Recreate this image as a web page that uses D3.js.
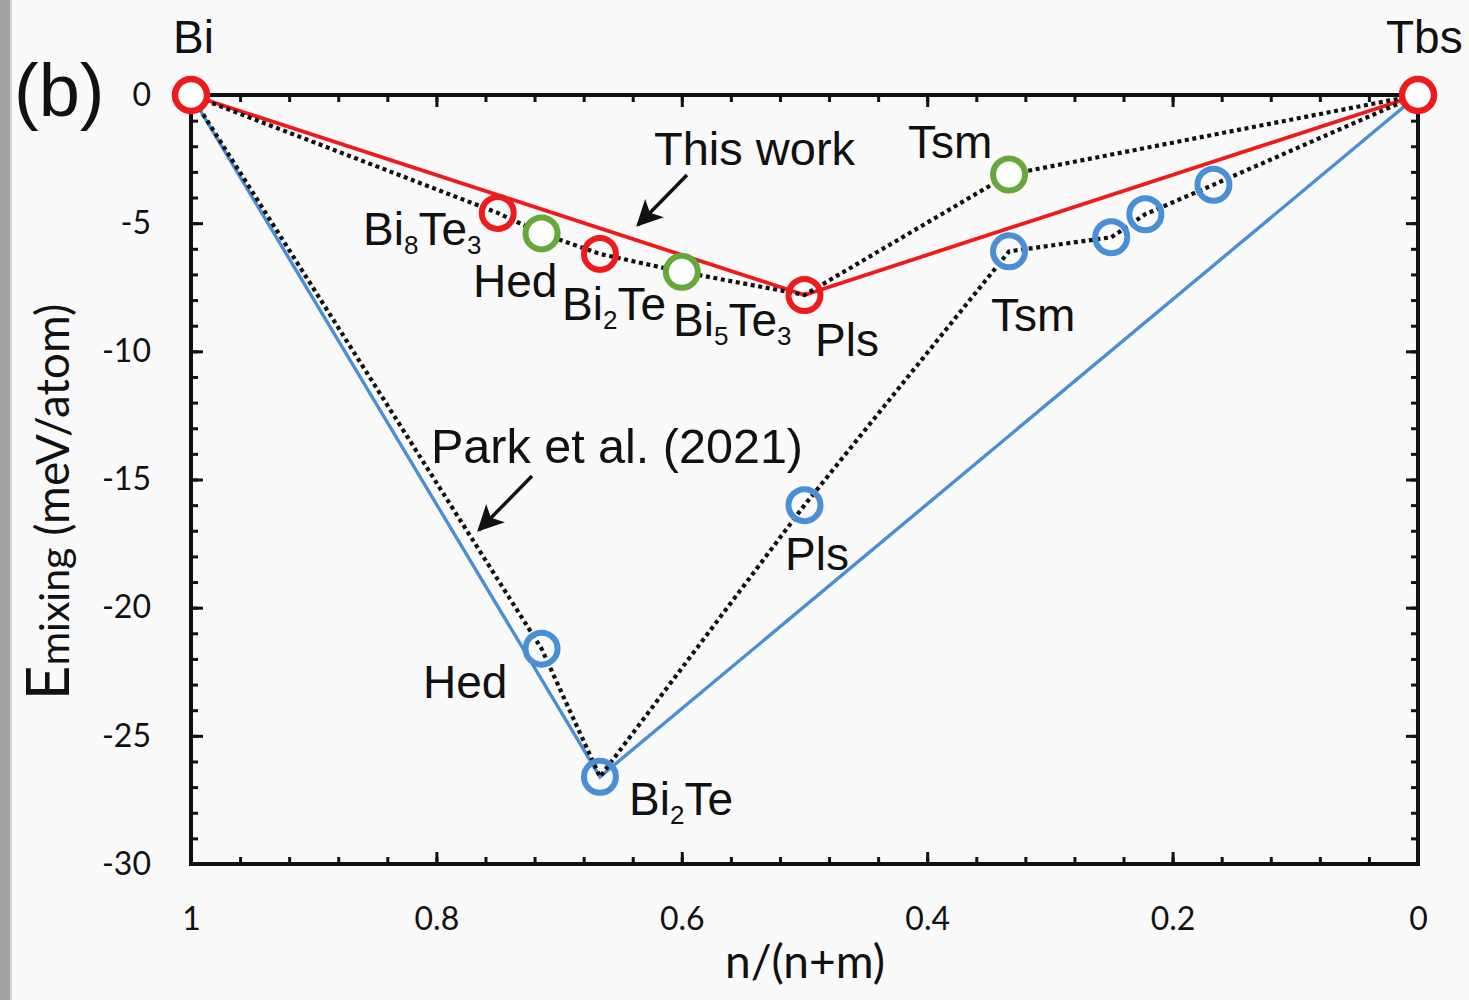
<!DOCTYPE html>
<html>
<head>
<meta charset="utf-8">
<script src="https://cdn.jsdelivr.net/npm/d3@7/dist/d3.min.js"></script>
<style>
  html, body { margin: 0; padding: 0; background: #fafafa; }
  svg { display: block; }
</style>
</head>
<body>
<svg id="chart" width="1469" height="1000"></svg>
<script>
// ---------------- DATA ----------------
// This work (red = stable/hull points, green = metastable points)
const redX   = [1, 0.75, 0.6667, 0.5, 0];
const redY   = [0, -4.6, -6.2, -7.8, 0];
const greenX = [0.7143, 0.6, 0.3333];
const greenY = [-5.4, -6.9, -3.1];
const thisWorkHullX = [1, 0.5, 0];
const thisWorkHullY = [0, -7.8, 0];
const thisWorkDotX = [1, 0.75, 0.7143, 0.6667, 0.6, 0.5, 0.3333, 0];
const thisWorkDotY = [0, -4.6, -5.4, -6.2, -6.9, -7.8, -3.1, 0];
// Park et al. (2021)
const parkX = [0.7143, 0.6667, 0.5, 0.3333, 0.25, 0.2222, 0.1667];
const parkY = [-21.6, -26.6, -16.0, -6.1, -5.55, -4.65, -3.5];
const parkHullX = [1, 0.6667, 0];
const parkHullY = [0, -26.6, 0];
const parkDotX = [1, 0.7143, 0.6667, 0.5, 0.3333, 0.25, 0.2222, 0.1667, 0];
const parkDotY = [0, -21.6, -26.6, -16.0, -6.1, -5.55, -4.65, -3.5, 0];
// Axes
const xMajorTicks = [1, 0.8, 0.6, 0.4, 0.2, 0];
const xTickLabels = ["1", "0.8", "0.6", "0.4", "0.2", "0"];
const xMinorTicks = d3.range(0, 26).map(i => +(i * 0.04).toFixed(2)).filter(v => v <= 1);
const yMajorTicks = [0, -5, -10, -15, -20, -25, -30];
const yTickLabels = ["0", "-5", "-10", "-15", "-20", "-25", "-30"];
const yMinorTicks = d3.range(0, 31).map(i => -i);

// ---------------- LAYOUT ----------------
const svg = d3.select("#chart");
const L = 191, R = 1418, T = 95, B = 864;
const x = d3.scaleLinear().domain([1, 0]).range([L, R]);
const y = d3.scaleLinear().domain([0, -30]).range([T, B]);

const RED = "#ef1b1b", BLUE = "#4a8fd6", GREEN = "#67a83a", INK = "#111";
const SANS = "'Liberation Sans', Arial, sans-serif";
const CAL = "Lato, 'Open Sans', sans-serif";

// background + left grey strip
svg.append("rect").attr("width", 1469).attr("height", 1000).attr("fill", "#fafafa");
svg.append("rect").attr("x", 0).attr("y", 0).attr("width", 10).attr("height", 1000).attr("fill", "#a2a2a2");
svg.append("rect").attr("x", 10).attr("y", 0).attr("width", 2).attr("height", 1000).attr("fill", "#d4d4d4");

// ---------------- AXES ----------------
function styleAxis(g) {
  g.select(".domain").remove();
  g.selectAll(".tick line").attr("stroke", INK).attr("stroke-width", 3);
  g.selectAll(".tick text").attr("fill", INK).attr("font-family", CAL).attr("font-size", 32);
}
// bottom
svg.append("g").attr("transform", `translate(0,${B})`)
  .call(d3.axisBottom(x).tickValues(xMinorTicks).tickSize(-7).tickSizeOuter(0).tickFormat(""))
  .call(styleAxis);
svg.append("g").attr("transform", `translate(0,${B})`)
  .call(d3.axisBottom(x).tickValues(xMajorTicks).tickSize(-12).tickSizeOuter(0).tickPadding(43)
        .tickFormat((d, i) => xTickLabels[i]))
  .call(styleAxis);
// top
svg.append("g").attr("transform", `translate(0,${T})`)
  .call(d3.axisTop(x).tickValues(xMinorTicks).tickSize(-7).tickSizeOuter(0).tickFormat(""))
  .call(styleAxis);
svg.append("g").attr("transform", `translate(0,${T})`)
  .call(d3.axisTop(x).tickValues(xMajorTicks).tickSize(-12).tickSizeOuter(0).tickFormat(""))
  .call(styleAxis);
// left
svg.append("g").attr("transform", `translate(${L},0)`)
  .call(d3.axisLeft(y).tickValues(yMinorTicks).tickSize(-7).tickSizeOuter(0).tickFormat(""))
  .call(styleAxis);
svg.append("g").attr("transform", `translate(${L},0)`)
  .call(d3.axisLeft(y).tickValues(yMajorTicks).tickSize(-12).tickSizeOuter(0).tickPadding(40)
        .tickFormat((d, i) => yTickLabels[i]))
  .call(styleAxis);
// right
svg.append("g").attr("transform", `translate(${R},0)`)
  .call(d3.axisRight(y).tickValues(yMinorTicks).tickSize(-7).tickSizeOuter(0).tickFormat(""))
  .call(styleAxis);
svg.append("g").attr("transform", `translate(${R},0)`)
  .call(d3.axisRight(y).tickValues(yMajorTicks).tickSize(-12).tickSizeOuter(0).tickFormat(""))
  .call(styleAxis);
// frame
svg.append("rect").attr("x", L).attr("y", T).attr("width", R - L).attr("height", B - T)
  .attr("fill", "none").attr("stroke", INK).attr("stroke-width", 4);

// axis titles
svg.append("text").attr("x", 805).attr("y", 978).attr("text-anchor", "middle")
  .attr("font-family", CAL).attr("font-size", 46).attr("fill", INK).text("n/(n+m)");
const yt = svg.append("text").attr("transform", "translate(69,502) rotate(-90)")
  .attr("text-anchor", "middle").attr("font-family", CAL).attr("fill", INK);
yt.append("tspan").attr("font-size", 60).text("E");
yt.append("tspan").attr("font-size", 41).text("mixing");
yt.append("tspan").attr("font-size", 46).text(" (meV/atom)");

// ---------------- LINES ----------------
const line = d3.line().x(d => x(d[0])).y(d => y(d[1]));
const zip = (a, b) => a.map((v, i) => [v, b[i]]);

svg.append("path").datum(zip(parkHullX, parkHullY)).attr("d", line)
  .attr("fill", "none").attr("stroke", BLUE).attr("stroke-width", 3.4);
svg.append("path").datum(zip(thisWorkHullX, thisWorkHullY)).attr("d", line)
  .attr("fill", "none").attr("stroke", RED).attr("stroke-width", 3.8);
[zip(parkDotX, parkDotY), zip(thisWorkDotX, thisWorkDotY)].forEach(pts => {
  svg.append("path").datum(pts).attr("d", line)
    .attr("fill", "none").attr("stroke", INK).attr("stroke-width", 4.2)
    .attr("stroke-dasharray", "4,3.6");
});

// ---------------- POINTS ----------------
svg.append("g").selectAll("circle").data(zip(parkX, parkY)).join("circle")
  .attr("cx", d => x(d[0])).attr("cy", d => y(d[1])).attr("r", 16)
  .attr("fill", "none").attr("stroke", BLUE).attr("stroke-width", 6);
svg.append("g").selectAll("circle").data(zip(greenX, greenY)).join("circle")
  .attr("cx", d => x(d[0])).attr("cy", d => y(d[1])).attr("r", 16)
  .attr("fill", "#fff").attr("stroke", GREEN).attr("stroke-width", 6);
svg.append("g").selectAll("circle").data(zip(redX, redY)).join("circle")
  .attr("cx", d => x(d[0])).attr("cy", d => y(d[1])).attr("r", 16)
  .attr("fill", (d, i) => (i === 0 || i === redX.length - 1) ? "#fff" : "none")
  .attr("stroke", RED).attr("stroke-width", (d, i) => (i === 0 || i === redX.length - 1) ? 6.5 : 6);

// ---------------- LABELS ----------------
function label(px, py, parts, size) {
  const t = svg.append("text").attr("x", px).attr("y", py)
    .attr("font-family", SANS).attr("font-size", size || 46).attr("fill", INK);
  let shifted = false;
  parts.forEach(p => {
    if (typeof p === "string") {
      t.append("tspan").attr("dy", shifted ? -9 : 0).text(p);
      shifted = false;
    } else {
      t.append("tspan").attr("font-size", 26).attr("dy", 9).text(p.sub);
      shifted = true;
    }
  });
  return t;
}
label(173, 53, ["Bi"]);
label(1386, 53, ["Tbs"]);
label(14, 116, ["(b)"], 74);

label(363, 245, ["Bi", {sub: "8"}, "Te", {sub: "3"}]);
label(473, 297, ["Hed"]);
label(562, 320, ["Bi", {sub: "2"}, "Te"]);
label(673, 336, ["Bi", {sub: "5"}, "Te", {sub: "3"}]);
label(815, 356, ["Pls"]);
label(908, 158, ["Tsm"]);
label(991, 331, ["Tsm"]);
label(785, 570, ["Pls"]);
label(423, 698, ["Hed"]);
label(629, 815, ["Bi", {sub: "2"}, "Te"]);

label(654, 165, ["This work"], 47);
label(431, 463, ["Park et al. (2021)"], 48.5);

// arrows
const defs = svg.append("defs");
defs.append("marker").attr("id", "ah").attr("viewBox", "0 0 10 10").attr("refX", 9).attr("refY", 5)
  .attr("markerWidth", 7.5).attr("markerHeight", 7.5).attr("markerUnits", "strokeWidth").attr("orient", "auto")
  .append("path").attr("d", "M0,0 L10,5 L0,10 L2.5,5 Z").attr("fill", INK);
[[687, 175, 638, 225], [532, 476, 479, 530]].forEach(a => {
  svg.append("line").attr("x1", a[0]).attr("y1", a[1]).attr("x2", a[2]).attr("y2", a[3])
    .attr("stroke", INK).attr("stroke-width", 3.5).attr("marker-end", "url(#ah)");
});
</script>
</body>
</html>
